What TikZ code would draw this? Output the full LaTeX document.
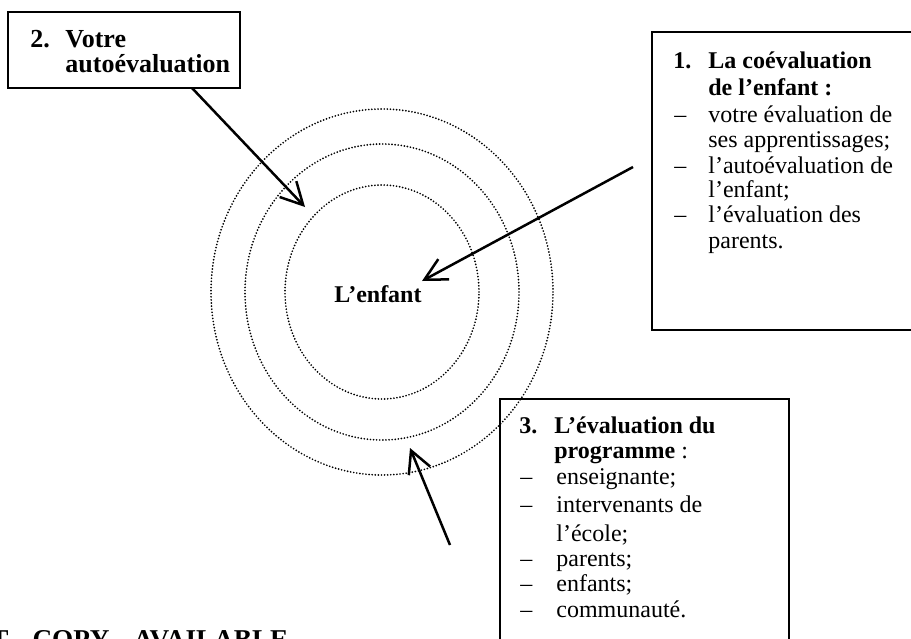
\documentclass[tikz,border=0pt]{standalone}
\usepackage{fontspec}
\setmainfont{Liberation Serif}
\usetikzlibrary{arrows.meta,fit,shapes.geometric}
\begin{document}
\begin{tikzpicture}[x=0.5pt,y=-0.5pt,
  boxst/.style={draw, line width=1.1pt, inner sep=0pt},
  ring/.style={draw, ellipse, inner sep=0pt, line width=0.95pt, line cap=round, dash pattern=on 0pt off 1.55pt},
  arr/.style={line width=1.25pt, -{Straight Barb[length=11pt,width=11.5pt,line width=1.25pt]}},
  hd/.style={anchor=base west, inner sep=0pt, font=\fontsize{12}{14}\selectfont\bfseries},
  hdb/.style={anchor=base west, inner sep=0pt, font=\fontsize{13}{15}\selectfont\bfseries},
  tx/.style={anchor=base west, inner sep=0pt, font=\fontsize{12}{14}\selectfont},
  ]
\useasboundingbox (0,0) rectangle (911,638);
\fill[white] (0,0) rectangle (911,638);

% rings
\node[ring, minimum width=97pt, minimum height=107pt] (ring1) at (382,292) {};
\node[ring, minimum width=137pt, minimum height=148pt] (ring2) at (382,292) {};
\node[ring, minimum width=171pt, minimum height=183pt] (ring3) at (382,292) {};

\node[anchor=base, inner sep=0pt, font=\fontsize{12}{14}\selectfont\bfseries] (enfant) at (378,302) {L’enfant};

% box 2
\node[boxst, fit={(8,12) (240,88)}] (box2) {};
\node[hdb] (b2n) at (30,47) {2.};
\node[hdb] (b2a) at (65,47) {Votre};
\node[hdb] (b2b) at (65,72) {autoévaluation};

% box 1
\node[boxst, fit={(652,32) (930,330)}] (box1) {};
\node[hd] (b1n) at (673,68) {1.};
\node[hd] (b1a) at (708,68) {La coévaluation};
\node[hd] (b1b) at (708,95) {de l’enfant :};
\node[tx] (b1d1) at (674,122) {–};
\node[tx] (b1c) at (708,122) {votre évaluation de};
\node[tx] (b1e) at (708,147) {ses apprentissages;};
\node[tx] (b1d2) at (674,173) {–};
\node[tx] (b1f) at (708,173) {l’autoévaluation de};
\node[tx] (b1g) at (708,197) {l’enfant;};
\node[tx] (b1d3) at (674,222) {–};
\node[tx] (b1h) at (708,222) {l’évaluation des};
\node[tx] (b1i) at (708,248) {parents.};

% box 3
\node[boxst, fit={(500,399) (789,660)}] (box3) {};
\node[hd] (b3n) at (519,433) {3.};
\node[hd] (b3a) at (554,433) {L’évaluation du};
\node[tx] (b3b) at (554,458) {\textbf{programme} :};
\node[tx] (b3d1) at (520,484) {–};
\node[tx] (b3c) at (556,484) {enseignante;};
\node[tx] (b3d2) at (520,512) {–};
\node[tx] (b3e) at (556,512) {intervenants de};
\node[tx] (b3f) at (556,541) {l’école;};
\node[tx] (b3d3) at (520,566) {–};
\node[tx] (b3g) at (556,566) {parents;};
\node[tx] (b3d4) at (520,591) {–};
\node[tx] (b3h) at (556,591) {enfants;};
\node[tx] (b3d5) at (520,617) {–};
\node[tx] (b3i) at (556,617) {communauté.};

% arrows
\coordinate (a2s) at (192,88);
\coordinate (a2e) at (305,207);
\coordinate (a1s) at (633,167);
\coordinate (a1e) at (422,281);
\coordinate (a3s) at (450,545);
\coordinate (a3e) at (410,448);
\draw[arr] (a2s) -- (a2e);
\draw[arr] (a1s) -- (a1e);
\draw[arr] (a3s) -- (a3e);

% cut-off stamp text
\begin{scope}
\clip (0,0) rectangle (911,638);
\node[anchor=base west, inner sep=0pt, font={\fontsize{13.6}{16}\selectfont\bfseries}] (stamp) at (-10,648) {T\hspace{12pt}COPY\hspace{12pt}AVAILABLE};
\end{scope}
\end{tikzpicture}
\end{document}
